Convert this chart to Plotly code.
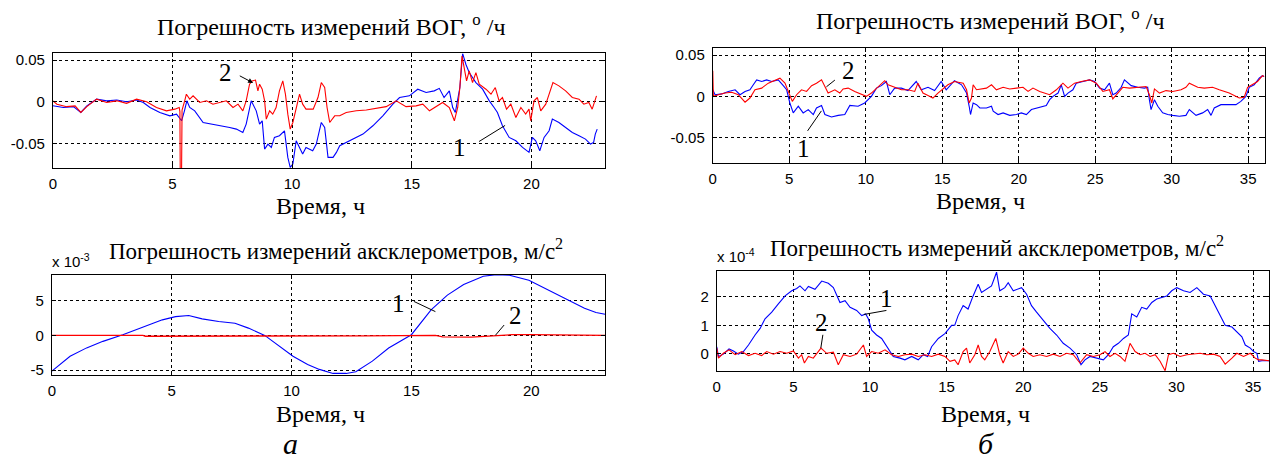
import plotly.graph_objects as go

# ---------------- data ----------------
# (a) gyro error, deg/h
t_gyro_a_1 = [0, 0.44, 0.86, 1.17, 1.42, 1.83, 2.25, 2.67, 3.08, 3.5, 3.78, 4.06, 4.47, 4.89, 5.17, 5.38, 5.5, 5.6,
              5.72, 5.93, 6.28, 6.69, 7.1, 7.39, 7.67, 7.94, 8.08, 8.29, 8.5, 8.64, 8.75, 8.85, 8.99, 9.13, 9.26, 9.47,
              9.68, 9.82, 9.92, 10.03, 10.17, 10.31, 10.44, 10.58, 10.86, 11.01, 11.22, 11.36, 11.5, 11.71, 11.85,
              11.99, 12.54, 12.96, 13.375, 13.79, 14.21, 14.49, 14.9, 15.25, 15.6, 15.94, 16.15, 16.35, 16.57, 16.71,
              16.82, 16.92, 17.01, 17.125, 17.26, 17.4, 17.68, 17.96, 18.24, 18.44, 18.58, 18.79, 19.07, 19.35, 19.63,
              19.9, 20.04, 20.18, 20.35, 20.53, 20.74, 20.875, 21.15, 21.43, 21.71, 21.99, 22.26, 22.47, 22.6, 22.67,
              22.75]
gyro_a_1 = [-0.005, -0.007, -0.006, -0.013, -0.005, 0.003, 0.001, 0.002, 0.0, 0.002, -0.001, -0.007, -0.013, -0.017,
            -0.015, -0.023, -0.011, 0.001, -0.007, -0.011, -0.025, -0.027, -0.029, -0.031, -0.033, -0.037, -0.027,
            0.001, -0.011, -0.027, -0.023, -0.057, -0.051, -0.055, -0.043, -0.041, -0.035, -0.067, -0.079, -0.075,
            -0.047, -0.055, -0.063, -0.055, -0.059, -0.051, -0.025, -0.031, -0.067, -0.067, -0.061, -0.053, -0.045,
            -0.039, -0.029, -0.017, -0.003, 0.005, 0.007, 0.015, 0.011, 0.013, 0.016, 0.005, 0.013, -0.007, -0.013,
            0.005, 0.017, 0.058, 0.045, 0.035, 0.023, 0.015, 0.001, -0.007, -0.013, -0.029, -0.043, -0.047, -0.055,
            -0.061, -0.043, -0.047, -0.059, -0.043, -0.035, -0.021, -0.025, -0.031, -0.037, -0.041, -0.045, -0.051,
            -0.049, -0.039, -0.033]

t_gyro_a_2 = [0, 0.17, 0.58, 0.93, 1.17, 1.42, 1.83, 2.25, 2.67, 3.08, 3.5, 3.92, 4.33, 4.75, 5.1, 5.28, 5.31, 5.33,
              5.37, 5.40, 5.51, 5.58, 5.72, 5.86, 6.14, 6.42, 6.69, 6.97, 7.25, 7.53, 7.74, 7.94, 8.08, 8.22, 8.33,
              8.47, 8.57, 8.64, 8.75, 8.85, 8.92, 9.06, 9.19, 9.33, 9.47, 9.61, 9.72, 9.82, 9.92, 10.03, 10.17, 10.31,
              10.44, 10.58, 10.88, 11.08, 11.22, 11.36, 11.46, 11.57, 11.78, 11.99, 12.26, 12.68, 13.1, 13.51, 13.93,
              14.35, 14.76, 15.18, 15.46, 15.74, 16.01, 16.29, 16.57, 16.78, 16.92, 17.01, 17.1, 17.19, 17.29, 17.4,
              17.54, 17.68, 17.82, 18.1, 18.31, 18.49, 18.65, 18.79, 18.96, 19.14, 19.35, 19.56, 19.76, 19.9, 19.97,
              20.11, 20.25, 20.39, 20.6, 20.74, 20.9, 21.15, 21.43, 21.71, 21.99, 22.19, 22.4, 22.54, 22.65, 22.72]
gyro_a_2 = [0.001, -0.003, -0.006, -0.005, -0.013, -0.006, 0.003, -0.001, 0.001, -0.002, 0.003, 0.0, -0.007, -0.011,
            -0.009, -0.007, -0.012, -0.12, -0.12, -0.010, 0.001, 0.009, 0.003, 0.007, -0.001, 0.001, -0.003, -0.001,
            0.001, -0.007, -0.003, -0.011, 0.001, 0.021, 0.025, 0.026, 0.013, 0.021, 0.015, 0.001, -0.021, -0.011,
            -0.015, -0.007, 0.013, 0.025, 0.009, -0.015, -0.033, -0.025, -0.007, 0.009, -0.003, -0.009, -0.009,
            0.005, 0.023, 0.017, -0.007, -0.025, -0.017, -0.017, -0.013, -0.011, -0.010, -0.008, -0.006, 0.001,
            -0.006, -0.005, -0.003, -0.011, -0.006, -0.001, -0.007, -0.023, -0.007, 0.017, 0.055, 0.041, 0.025,
            0.037, 0.023, 0.035, 0.021, 0.015, 0.009, 0.017, 0.001, 0.005, -0.009, -0.003, -0.019, -0.007, -0.015,
            -0.009, -0.023, 0.001, 0.005, -0.011, -0.003, 0.009, 0.023, 0.019, 0.013, 0.005, 0.003, -0.003, -0.001,
            -0.009, 0.001, 0.007]

# (a) accelerometer error, x 1e-3 m/s^2
t_acc_a_1 = [0, 0.76, 1.45, 2.13, 2.96, 3.79, 4.61, 5.16, 5.71, 6.27, 6.96, 7.64, 8.2, 8.88, 9.57, 10.06, 10.67,
             11.16, 11.73, 12.28, 12.68, 13.37, 14.05, 15.0, 15.82, 16.5, 17.18, 18.0, 18.54, 19.09, 19.9, 20.59,
             21.54, 22.22, 22.7, 23.08]
acc_a_1 = [-5.14, -3.0, -1.8, -0.86, 0.1, 1.14, 2.24, 2.7, 2.86, 2.38, 2.0, 1.76, 1.05, 0.0, -1.8, -3.0, -4.2, -4.9,
           -5.48, -5.48, -5.24, -3.71, -1.81, 0.1, 3.67, 5.8, 7.33, 8.52, 8.76, 8.67, 7.95, 6.76, 5.1, 3.9, 3.29,
           3.05]

t_acc_a_2 = [0, 3.8, 3.9, 6.5, 13.0, 16.0, 16.3, 17.5, 18.2, 18.5, 19.2, 20.0, 21.0, 22.0, 23.08]
acc_a_2 = [0.0, 0.0, -0.12, -0.12, -0.06, 0.0, -0.2, -0.25, -0.1, 0.0, 0.1, 0.12, 0.1, 0.0, 0.0]

# (б) gyro error, deg/h
t_gyro_b_1 = [0, 0.15, 0.59, 1.02, 1.46, 1.78, 2.11, 2.43, 2.65, 2.87, 3.2, 3.52, 3.85, 4.28, 4.61, 4.83, 5.04, 5.26,
              5.59, 5.91, 6.24, 6.57, 6.78, 7.11, 7.33, 7.76, 8.2, 8.63, 8.96, 9.5, 9.93, 10.37, 10.7, 11.02, 11.35,
              11.57, 11.89, 12.33, 12.76, 13.3, 13.63, 14.07, 14.5, 14.93, 15.26, 15.8, 16.26, 16.59, 16.76, 16.85,
              17.02, 17.24, 17.46, 17.89, 18.22, 18.33, 18.65, 18.98, 19.41, 19.85, 20.17, 20.5, 20.83, 21.37, 21.8,
              22.02, 22.24, 22.57, 22.78, 23.0, 23.22, 23.54, 23.76, 24.2, 24.63, 24.96, 25.28, 25.61, 25.93, 26.15,
              26.37, 26.7, 26.91, 27.35, 27.78, 28.22, 28.43, 28.54, 28.65, 28.87, 29.09, 29.41, 29.74, 30.07, 30.5,
              30.93, 31.15, 31.59, 32.02, 32.35, 32.57, 32.78, 33.22, 33.65, 34.2, 34.52, 34.85, 35.07, 35.39, 35.72,
              35.93, 36.04]
gyro_b_1 = [0.008, 0.002, 0.003, 0.006, 0.008, 0.002, 0.006, 0.008, 0.014, 0.020, 0.018, 0.020, 0.018, 0.020, 0.013,
            0.008, -0.008, -0.020, -0.012, -0.020, -0.016, -0.022, -0.014, -0.011, -0.022, -0.025, -0.023, -0.022,
            -0.011, -0.012, -0.008, 0.0, 0.010, 0.013, 0.018, 0.002, 0.010, 0.010, 0.007, 0.018, 0.008, 0.011, 0.007,
            0.018, 0.008, 0.019, 0.014, 0.004, -0.012, -0.022, -0.008, -0.010, -0.014, -0.014, -0.012, -0.018,
            -0.022, -0.020, -0.023, -0.022, -0.020, -0.022, -0.016, -0.013, -0.011, -0.004, 0.0, 0.004, 0.014, 0.0,
            0.004, 0.008, 0.016, 0.018, 0.020, 0.018, 0.010, 0.008, 0.016, 0.002, 0.004, 0.011, 0.020, 0.013, 0.011,
            0.010, 0.011, -0.004, -0.016, -0.004, -0.012, -0.020, -0.022, -0.023, -0.024, -0.023, -0.016, -0.023,
            -0.020, -0.016, -0.023, -0.014, -0.010, -0.010, -0.010, -0.006, 0.0, 0.011, 0.014, 0.022, 0.025, 0.024]

t_gyro_b_2 = [0, 0.04, 0.37, 0.8, 1.24, 1.67, 2.11, 2.43, 2.76, 3.2, 3.63, 4.07, 4.39, 4.72, 5.04, 5.2, 5.48, 5.8,
              6.13, 6.46, 6.78, 7.11, 7.33, 7.54, 7.98, 8.3, 8.52, 8.85, 9.28, 9.72, 10.04, 10.37, 10.8, 11.24, 11.46,
              11.89, 12.33, 12.76, 13.2, 13.41, 13.74, 14.07, 14.39, 14.72, 15.04, 15.37, 15.8, 16.37, 16.59, 16.76,
              16.91, 17.02, 17.24, 17.57, 17.89, 18.22, 18.54, 18.98, 19.41, 19.85, 20.28, 20.61, 20.93, 21.37, 22.02,
              22.46, 22.89, 23.22, 23.65, 24.09, 24.63, 25.07, 25.5, 25.93, 26.15, 26.48, 26.8, 27.24, 27.78, 28.33,
              28.54, 28.7, 28.87, 29.2, 29.63, 30.07, 30.61, 30.93, 31.15, 31.7, 32.13, 32.67, 33.11, 33.76, 34.41,
              34.74, 34.96, 35.28, 35.61, 35.93, 36.04]
gyro_b_2 = [0.031, 0.0, 0.002, 0.004, 0.005, 0.002, -0.007, -0.002, 0.008, 0.010, 0.016, 0.020, 0.022, 0.016, 0.002,
            -0.006, 0.002, 0.008, 0.006, 0.013, 0.016, 0.020, 0.012, 0.004, 0.008, 0.004, 0.009, 0.010, 0.006, 0.002,
            0.0, 0.004, 0.011, 0.019, 0.014, 0.011, 0.008, 0.008, 0.006, 0.016, 0.004, 0.001, -0.002, 0.004, 0.009,
            0.014, 0.018, 0.016, 0.008, -0.008, -0.002, 0.014, 0.008, 0.009, 0.010, 0.014, 0.008, 0.011, 0.009,
            0.010, 0.011, 0.006, 0.010, 0.006, 0.002, 0.008, 0.016, 0.010, 0.016, 0.018, 0.020, 0.016, 0.006, 0.008,
            -0.003, 0.004, 0.011, 0.010, 0.011, 0.012, 0.002, -0.008, 0.009, 0.004, 0.007, 0.006, 0.008, 0.011,
            0.016, 0.011, 0.010, 0.011, 0.008, 0.004, -0.002, -0.001, 0.011, 0.014, 0.018, 0.025, 0.024]

# (б) accelerometer error, x 1e-4 m/s^2
t_acc_b_1 = [0, 0.11, 0.43, 0.8, 1.09, 1.41, 1.74, 2.07, 2.5, 2.83, 3.15, 3.59, 4.02, 4.46, 4.89, 5.22, 5.43, 5.76,
             5.98, 6.41, 6.85, 7.28, 7.61, 7.83, 8.04, 8.37, 8.7, 9.13, 9.46, 9.72, 9.89, 10.11, 10.43, 10.76, 11.2,
             11.52, 11.96, 12.28, 12.72, 13.15, 13.48, 13.76, 14.02, 14.46, 14.89, 15.33, 15.53, 15.75, 16.08, 16.4,
             16.73, 17.06, 17.28, 17.6, 17.93, 18.26, 18.47, 18.8, 19.02, 19.35, 19.67, 19.89, 20.22, 20.54, 20.87,
             21.31, 21.74, 22.18, 22.61, 23.05, 23.49, 23.77, 24.03, 24.36, 24.79, 25.23, 25.56, 25.88, 26.21, 26.54,
             26.86, 27.08, 27.41, 27.73, 28.06, 28.39, 28.71, 29.04, 29.37, 29.69, 30.02, 30.46, 30.89, 31.33, 31.76,
             32.2, 32.53, 32.85, 33.18, 33.62, 33.94, 34.27, 34.49, 34.82, 35.03, 35.25, 35.36, 35.58, 36.04]
acc_b_1 = [0.25, -0.09, -0.01, 0.17, 0.1, -0.01, 0.08, 0.31, 0.66, 0.89, 1.23, 1.46, 1.75, 2.03, 2.21, 2.29, 2.38,
           2.21, 2.36, 2.26, 2.55, 2.47, 2.32, 2.03, 1.8, 1.86, 1.63, 1.52, 1.34, 1.4, 1.23, 0.83, 0.66, 0.54, 0.2,
           -0.09, -0.15, -0.21, -0.09, -0.21, -0.03, -0.09, 0.25, 0.54, 0.71, 1.0, 1.0, 1.34, 1.69, 1.57, 2.03, 2.44,
           2.15, 2.26, 2.38, 2.86, 2.21, 2.32, 2.49, 2.21, 2.26, 2.32, 2.09, 1.69, 1.46, 1.17, 0.89, 0.66, 0.37, 0.2,
           -0.03, -0.38, -0.21, -0.09, -0.15, -0.21, -0.03, 0.25, 0.37, 0.54, 0.66, 1.4, 1.29, 1.63, 1.57, 1.8, 1.92,
           1.98, 2.03, 2.21, 2.32, 2.21, 2.15, 2.32, 2.09, 2.03, 1.69, 1.34, 1.0, 0.94, 0.77, 0.6, 0.31, 0.2, 0.08,
           0.02, -0.26, -0.24, -0.24]

t_acc_b_2 = [0, 0.11, 0.43, 0.8, 1.2, 1.63, 2.07, 2.5, 2.93, 3.26, 3.7, 4.13, 4.57, 5.0, 5.33, 5.54, 5.72, 5.98,
             6.3, 6.52, 6.8, 7.17, 7.61, 7.93, 8.26, 8.7, 9.13, 9.57, 9.78, 10.11, 10.54, 10.98, 11.41, 11.85, 12.28,
             12.72, 13.15, 13.59, 14.02, 14.46, 14.89, 15.22, 15.53, 15.75, 16.08, 16.3, 16.51, 16.84, 17.06, 17.28,
             17.49, 17.82, 18.21, 18.47, 18.69, 19.02, 19.35, 19.67, 20.0, 20.33, 20.65, 21.09, 21.53, 21.96, 22.4,
             22.83, 23.27, 23.7, 24.14, 24.58, 25.01, 25.34, 25.66, 25.99, 26.32, 26.64, 26.97, 27.3, 27.63, 27.95,
             28.28, 28.61, 28.93, 29.26, 29.48, 29.8, 30.24, 30.68, 31.11, 31.55, 31.98, 32.42, 32.85, 33.18, 33.62,
             33.94, 34.38, 34.82, 35.14, 35.36, 35.58, 36.04]
acc_b_2 = [0.2, -0.15, 0.02, 0.14, -0.03, 0.08, -0.06, 0.02, -0.06, 0.08, -0.01, 0.08, 0.02, 0.1, -0.15, -0.03,
           -0.32, -0.09, -0.15, 0.02, 0.2, 0.02, 0.06, -0.38, -0.03, -0.09, -0.01, 0.31, -0.09, 0.08, 0.02, 0.14,
           -0.03, -0.09, -0.03, -0.01, -0.09, -0.03, -0.09, -0.01, -0.09, -0.26, -0.21, -0.38, 0.08, 0.2, -0.32,
           -0.03, 0.31, -0.09, -0.21, 0.08, 0.54, -0.03, -0.32, 0.08, -0.09, -0.01, 0.2, 0.02, -0.09, -0.03, -0.09,
           -0.01, -0.09, 0.02, -0.03, -0.32, -0.03, -0.09, -0.03, 0.08, -0.09, 0.02, -0.09, -0.26, 0.37, 0.08, -0.03,
           0.02, -0.09, -0.03, -0.26, -0.59, -0.03, 0.02, -0.09, -0.03, -0.01, 0.02, -0.03, -0.01, -0.09, -0.36,
           -0.15, 0.02, -0.09, 0.02, -0.15, -0.21, -0.21, -0.24]

gyro_ticks = [-0.05, 0, 0.05]
gyro_ticktext = ["-0.05", "0", "0.05"]
acc_a_ticks = [-5, 0, 5]
acc_b_ticks = [0, 1, 2]

TITLE_GYRO = "Погрешность измерений ВОГ, <sup>o</sup> /ч"
TITLE_ACC = "Погрешность измерений аксклерометров, м/с<sup>2</sup>"
XLABEL = "Время, ч"

# ---------------- figure ----------------
W, H = 1274, 465
BLUE, RED = "#0000ff", "#ff0000"
SERIF = "Liberation Serif"
SANS = "Liberation Sans"

def dom_x(x0, x1):
    return [x0 / W, x1 / W]

def dom_y(y0, y1):
    return [1 - y1 / H, 1 - y0 / H]

fig = go.Figure()

panels = [
    # axis id, x-domain px, y-domain px, x range, y range, y ticks, y tick text
    ("", dom_x(49, 603), dom_y(52, 168), [0, 23.08], [-0.08, 0.058], gyro_ticks, gyro_ticktext),
    ("2", dom_x(48, 603), dom_y(276, 377), [0, 23.08], [-5.7, 8.7], acc_a_ticks, ["-5", "0", "5"]),
    ("3", dom_x(711, 1265), dom_y(47, 163), [0, 36.1], [-0.081, 0.058], gyro_ticks, gyro_ticktext),
    ("4", dom_x(715, 1269), dom_y(272, 373), [0, 36.04], [-0.6, 2.9], acc_b_ticks, ["0", "1", "2"]),
]

series = [
    ("", t_gyro_a_1, gyro_a_1, BLUE, 1.1), ("", t_gyro_a_2, gyro_a_2, RED, 1.1),
    ("2", t_acc_a_1, acc_a_1, BLUE, 1.1), ("2", t_acc_a_2, acc_a_2, RED, 1.3),
    ("3", t_gyro_b_1, gyro_b_1, BLUE, 1.1), ("3", t_gyro_b_2, gyro_b_2, RED, 1.1),
    ("4", t_acc_b_1, acc_b_1, BLUE, 1.1), ("4", t_acc_b_2, acc_b_2, RED, 1.1),
]
for ax, xs, ys, col, w in series:
    fig.add_trace(go.Scatter(x=xs, y=ys, mode="lines", line=dict(color=col, width=w),
                             xaxis="x" + ax, yaxis="y" + ax, showlegend=False, hoverinfo="skip"))

axis_common = dict(showline=True, mirror="ticks", linecolor="black", linewidth=1,
                   showgrid=True, gridcolor="black", gridwidth=1, griddash="3px,3px",
                   zeroline=False, ticks="inside", ticklen=4, tickcolor="black",
                   tickfont=dict(family=SANS, size=15, color="black"))

layout = {}
for ax, xd, yd, xr, yr, yt, ytt in panels:
    xn = "xaxis" + ax
    yn = "yaxis" + ax
    layout[xn] = dict(axis_common, domain=xd, range=xr, anchor="y" + ax,
                      tickvals=[0, 5, 10, 15, 20, 25, 30, 35], ticklabelstandoff=2)
    layout[yn] = dict(axis_common, domain=yd, range=yr, anchor="x" + ax,
                      tickvals=yt, ticktext=ytt, ticklabelstandoff=4)
fig.update_layout(**layout)

ann = []

def text(x, y, s, size=24, font=SERIF, italic=False, xanchor="center"):
    f = dict(family=font, size=size, color="black")
    if italic:
        s = "<i>" + s + "</i>"
    ann.append(dict(x=x / W, y=1 - y / H, xref="paper", yref="paper", text=s, showarrow=False,
                    font=f, xanchor=xanchor, yanchor="middle"))

# panel titles and axis captions
text(329, 23, TITLE_GYRO)
text(333, 250, TITLE_ACC, size=23)
text(990, 17, TITLE_GYRO)
text(996, 247, TITLE_ACC, size=23)
text(317, 206, XLABEL)
text(317, 416, XLABEL)
text(980, 201, XLABEL)
text(985, 416, XLABEL)
text(287, 446, "а", size=30, italic=True)
text(985, 446, "б", size=30, italic=True)
text(46, 261, "x 10<sup>-3</sup>", size=15, font=SANS, xanchor="left")
text(713, 256, "x 10<sup>-4</sup>", size=15, font=SANS, xanchor="left")

# curve numbers with leader lines (data coordinates)
def label(ax, x, y, s):
    ann.append(dict(x=x, y=y, xref="x" + ax, yref="y" + ax, text=s, showarrow=False,
                    font=dict(family=SERIF, size=25, color="black")))

def leader(ax, x0, y0, x1, y1, head=0):
    ann.append(dict(x=x1, y=y1, ax=x0, ay=y0, xref="x" + ax, yref="y" + ax,
                    axref="x" + ax, ayref="y" + ax, text="", showarrow=True,
                    arrowhead=head, arrowsize=1, arrowwidth=1, arrowcolor="black"))

label("", 7.2, 0.0345, "2"); leader("", 7.75, 0.032, 8.37, 0.0226, head=2)
label("", 17.0, -0.055, "1"); leader("", 17.75, -0.049, 18.9, -0.0286)
label("2", 14.46, 4.6, "1"); leader("2", 15.04, 5.0, 16.0, 3.43)
label("2", 19.33, 2.9, "2"); leader("2", 18.92, 1.71, 18.5, 0.0)
label("3", 8.85, 0.0316, "2"); leader("3", 8.08, 0.0212, 7.43, 0.0116)
label("3", 5.91, -0.0636, "1"); leader("3", 6.13, -0.0436, 7.1, -0.0176)
label("4", 11.06, 1.95, "1"); leader("4", 11.17, 1.53, 9.6, 1.38)
label("4", 6.83, 1.1, "2"); leader("4", 6.94, 0.72, 6.79, 0.2)

fig.update_layout(annotations=ann, width=W, height=H, autosize=False,
                  margin=dict(l=0, r=0, t=0, b=0),
                  paper_bgcolor="white", plot_bgcolor="white")

fig.write_html("out.html")
